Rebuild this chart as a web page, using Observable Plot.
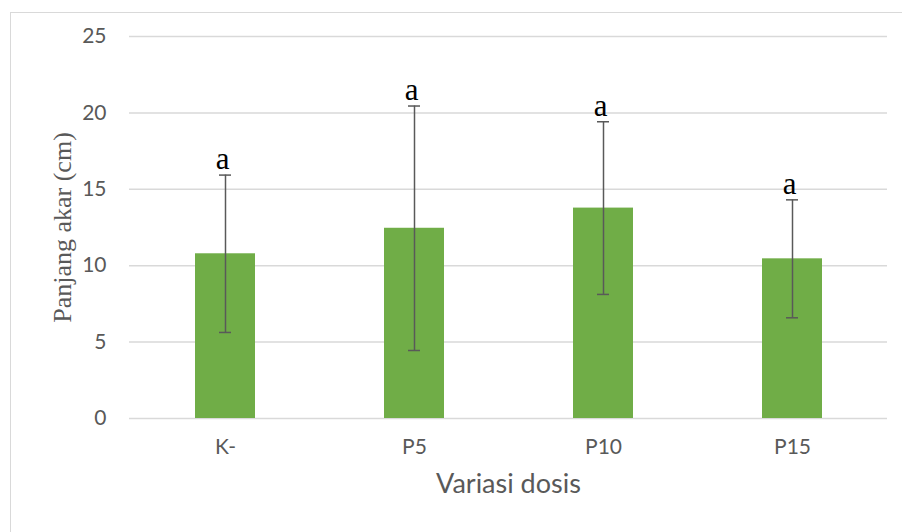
<!DOCTYPE html>
<html>
<head>
<meta charset="utf-8">
<script src="https://cdn.jsdelivr.net/npm/d3@7"></script>
<script src="https://cdn.jsdelivr.net/npm/@observablehq/plot@0.6"></script>
<style>
  html, body { margin: 0; padding: 0; background: #fff; }
  #wrap { position: relative; width: 902px; height: 532px; overflow: hidden; }
  #frame { position: absolute; left: 10px; top: 12px; width: 1000px; height: 1000px;
           border-left: 1.5px solid #d9d9d9; border-top: 1.5px solid #d9d9d9; }
  #chart { position: absolute; left: 0; top: 0; }
</style>
</head>
<body>
<div id="wrap"><div id="frame"></div><div id="chart"></div></div>
<script>
const categories = ["K-", "P5", "P10", "P15"];
const means = [10.78, 12.45, 13.77, 10.45];
const sds = [5.15, 8.0, 5.65, 3.86];
const letters = ["a", "a", "a", "a"];
const yTicks = [0, 5, 10, 15, 20, 25];

const data = categories.map((c, i) => ({cat: c, mean: means[i], sd: sds[i],
  lo: means[i] - sds[i], hi: means[i] + sds[i], letter: letters[i]}));

const sans = "Lato, 'Open Sans', sans-serif";
const serif = "'Liberation Serif', 'DejaVu Serif', serif";

const chart = Plot.plot({
  width: 902,
  height: 532,
  marginLeft: 129,
  marginRight: 15,
  marginTop: 36,
  marginBottom: 114,
  style: {background: "transparent", overflow: "visible"},
  x: {domain: categories, paddingInner: 0.683, paddingOuter: 0.342, label: null},
  y: {domain: [0, 25], label: null},
  marks: [
    Plot.gridY(yTicks, {stroke: "#d9d9d9", strokeOpacity: 1, strokeWidth: 1.5}),
    Plot.axisY(yTicks, {tickSize: 0, tickPadding: 23, fontSize: 21, fontFamily: sans, fill: "#595959", label: null}),
    Plot.axisX({tickSize: 0, tickPadding: 21, fontSize: 21, fontFamily: sans, fill: "#595959", label: null}),
    Plot.barY(data, {x: "cat", y: "mean", fill: "#70ad47"}),
    Plot.ruleX(data, {x: "cat", y1: "lo", y2: "hi", stroke: "#595959", strokeWidth: 1.5}),
    Plot.tickY(data, {x: "cat", y: "lo", stroke: "#595959", strokeWidth: 1.5, insetLeft: 24, insetRight: 24}),
    Plot.tickY(data, {x: "cat", y: "hi", stroke: "#595959", strokeWidth: 1.5, insetLeft: 24, insetRight: 24}),
    Plot.text(data, {x: "cat", y: "hi", text: "letter", textAnchor: "middle", lineAnchor: "bottom", dy: -6, dx: -3,
      fontSize: 31, fontFamily: serif, fill: "#000"}),
    Plot.text(["Panjang akar (cm)"], {frameAnchor: "left", textAnchor: "middle", dx: -67, rotate: -90, text: d => d,
      fontSize: 26, fontFamily: serif, fill: "#595959"}),
    Plot.text(["Variasi dosis"], {frameAnchor: "bottom", textAnchor: "middle", dy: 74, text: d => d,
      fontSize: 27, fontFamily: sans, fill: "#595959"})
  ]
});
document.getElementById("chart").appendChild(chart);
</script>
</body>
</html>
